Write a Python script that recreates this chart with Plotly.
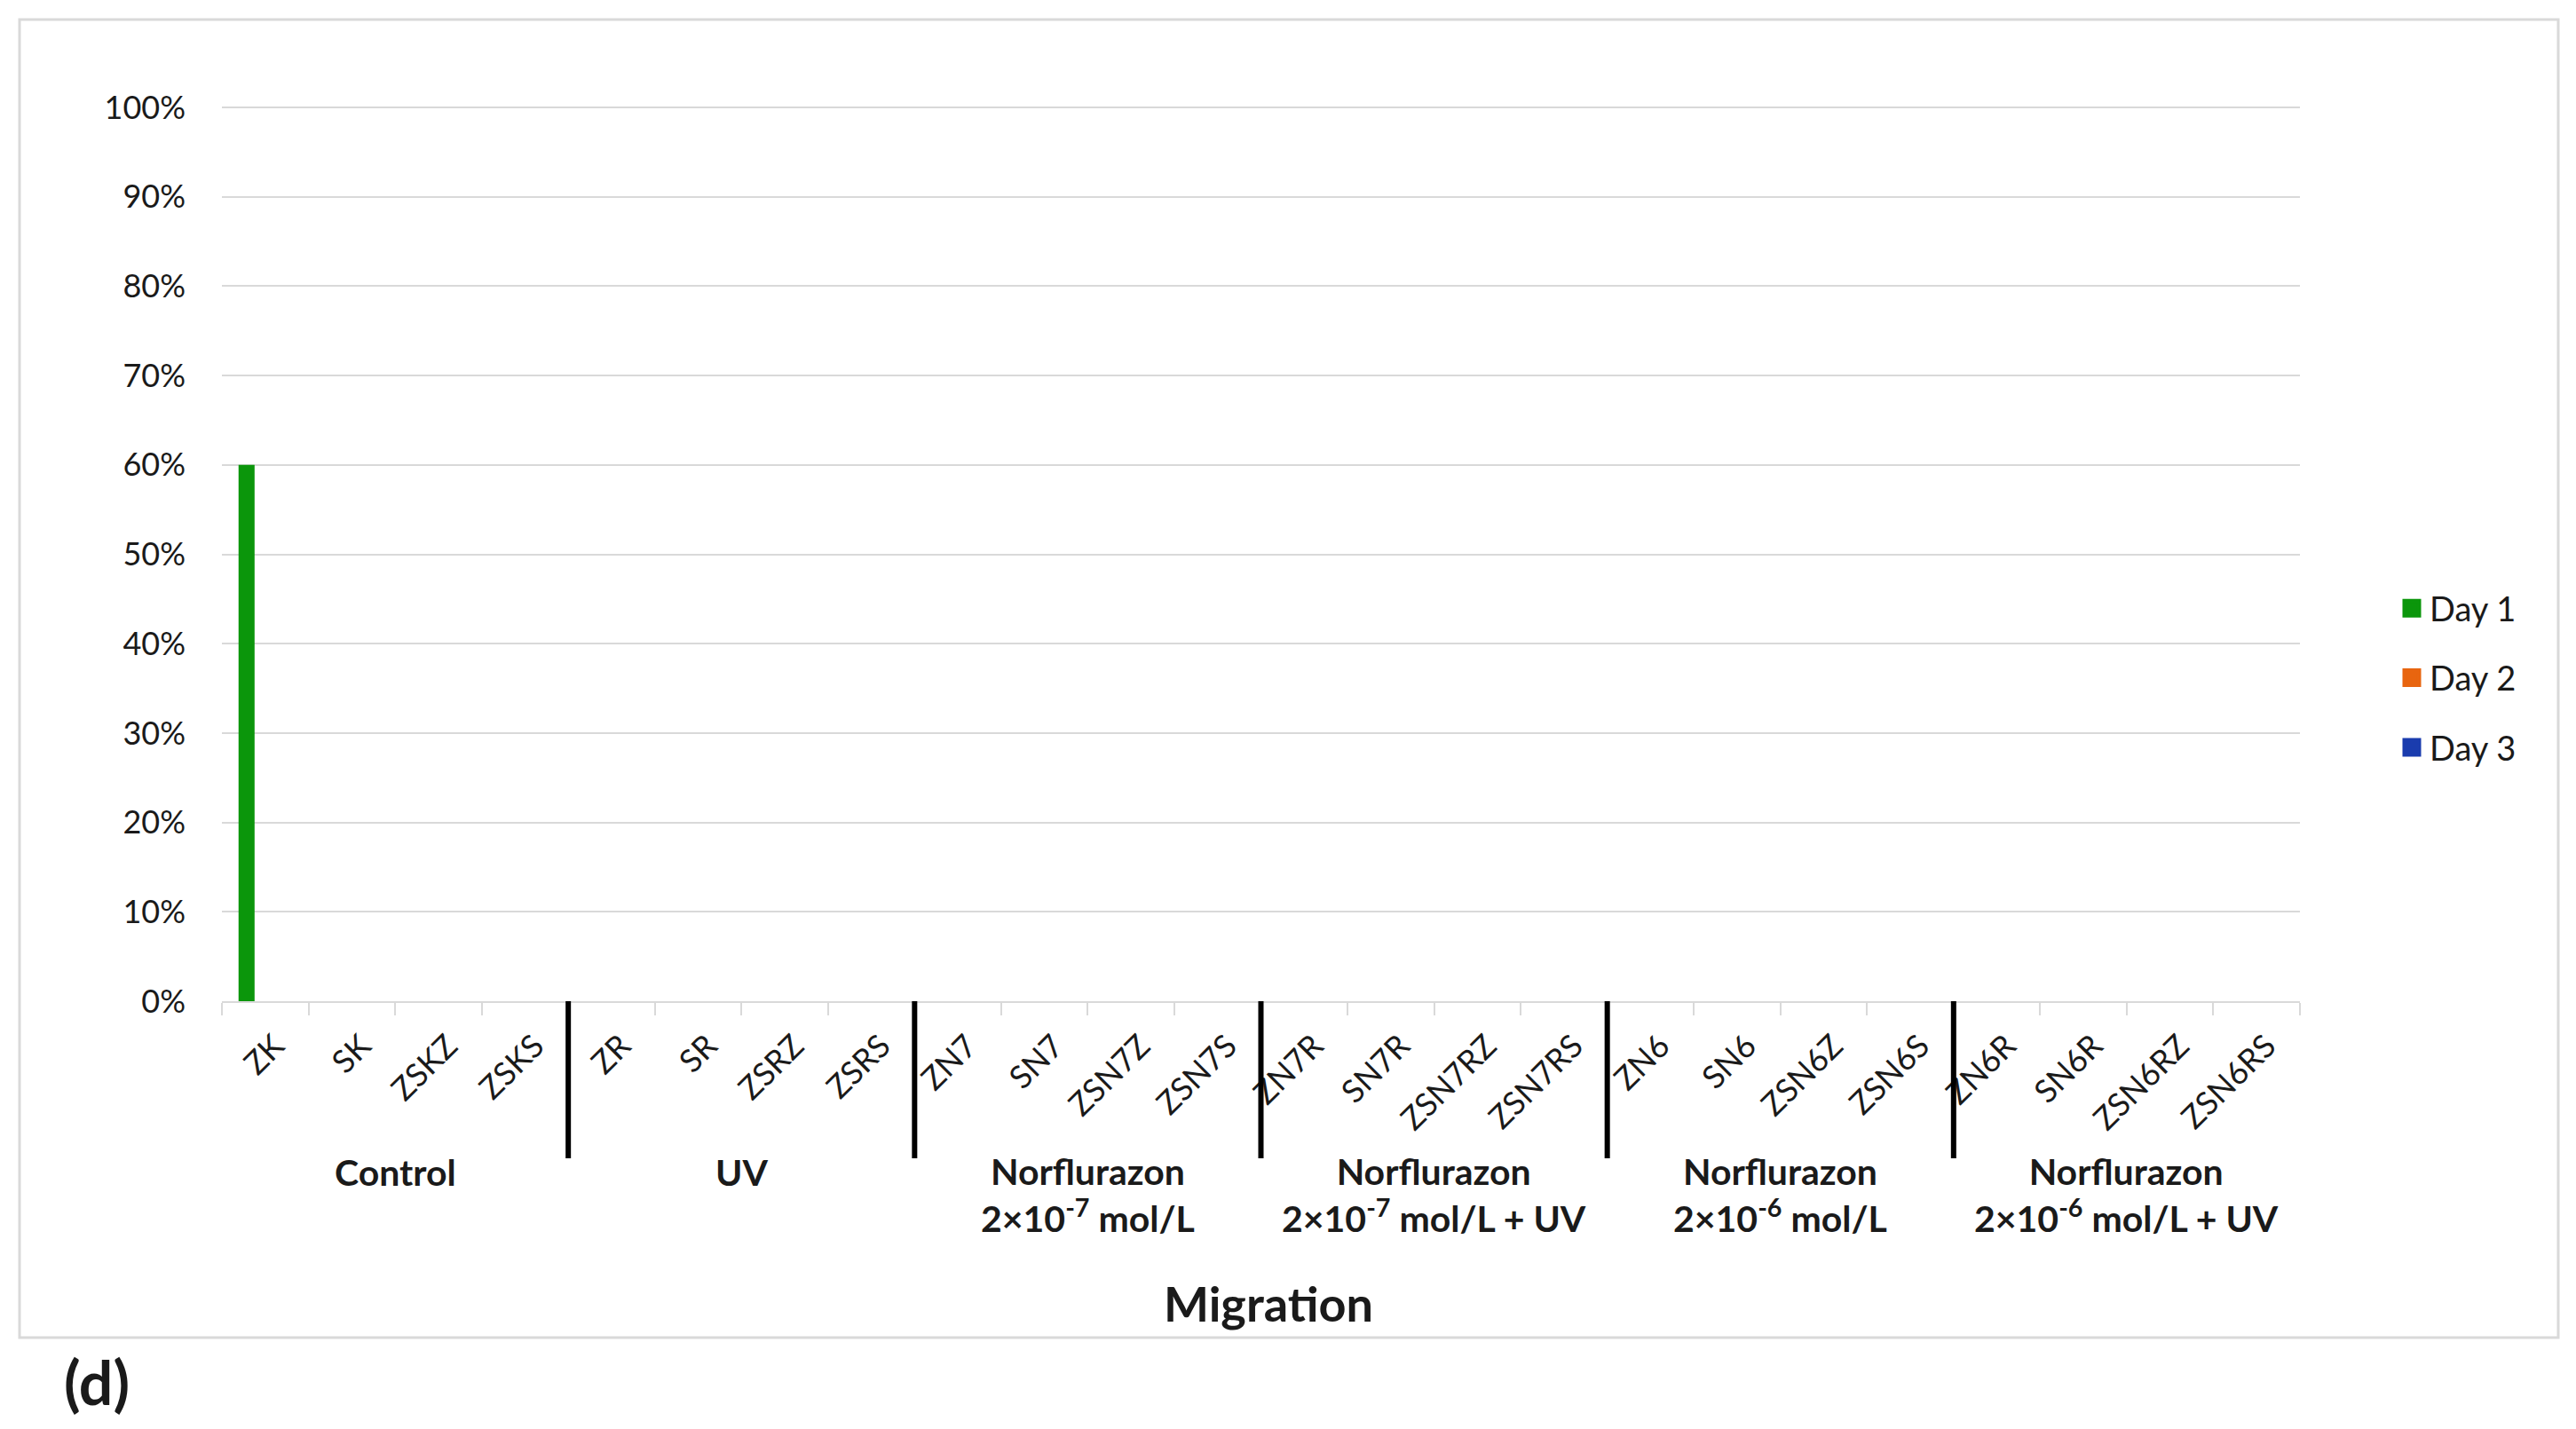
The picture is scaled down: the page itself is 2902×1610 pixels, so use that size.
import plotly.graph_objects as go

# ---------------- data ----------------
categories = ["ZK", "SK", "ZSKZ", "ZSKS",
              "ZR", "SR", "ZSRZ", "ZSRS",
              "ZN7", "SN7", "ZSN7Z", "ZSN7S",
              "ZN7R", "SN7R", "ZSN7RZ", "ZSN7RS",
              "ZN6", "SN6", "ZSN6Z", "ZSN6S",
              "ZN6R", "SN6R", "ZSN6RZ", "ZSN6RS"]

day1 = [0.60, 0, 0, 0, 0, 0, 0, 0, 0, 0, 0, 0,
        0, 0, 0, 0, 0, 0, 0, 0, 0, 0, 0, 0]
day2 = [0, 0, 0, 0, 0, 0, 0, 0, 0, 0, 0, 0,
        0, 0, 0, 0, 0, 0, 0, 0, 0, 0, 0, 0]
day3 = [0, 0, 0, 0, 0, 0, 0, 0, 0, 0, 0, 0,
        0, 0, 0, 0, 0, 0, 0, 0, 0, 0, 0, 0]

series_names = ["Day 1", "Day 2", "Day 3"]
series_colors = ["#0b960b", "#e8650f", "#1a3cae"]

group_labels = ["Control",
                "UV",
                "Norflurazon<br>2×10<sup>-7</sup> mol/L",
                "Norflurazon<br>2×10<sup>-7</sup> mol/L + UV",
                "Norflurazon<br>2×10<sup>-6</sup> mol/L",
                "Norflurazon<br>2×10<sup>-6</sup> mol/L + UV"]
group_sizes = [4, 4, 4, 4, 4, 4]

y_ticks = [0, 0.1, 0.2, 0.3, 0.4, 0.5, 0.6, 0.7, 0.8, 0.9, 1.0]

x_title = "Migration"
panel_label = "(d)"

# ---------------- layout geometry (pixels) ----------------
W, H = 2902, 1610
L, R, T, B = 250, 2591, 120, 1128
PW, PH = R - L, B - T


def px_x(p):
    return (p - L) / PW


def px_y(p):
    return (B - p) / PH


FONT = "Lato, 'Open Sans', sans-serif"
TXT = "#1a1a1a"

fig = go.Figure()
for name, vals, col in zip(series_names, [day1, day2, day3], series_colors):
    fig.add_trace(go.Bar(
        x=categories, y=vals, name=name,
        marker=dict(color=col, line=dict(width=0)),
        legendgroup=name, showlegend=False,
    ))
# legend entries (larger square keys, like the reference)
for name, col in zip(series_names, series_colors):
    fig.add_trace(go.Scatter(
        x=[None], y=[None], mode="markers", name=name,
        marker=dict(symbol="square", size=16, color=col,
                    line=dict(color=col, width=5)),
        legendgroup=name, showlegend=True, hoverinfo="skip",
    ))

shapes = []
annotations = []

# group separators and group labels
start = 0
for i, (lab, n) in enumerate(zip(group_labels, group_sizes)):
    center = start + (n - 1) / 2
    two_lines = "<br>" in lab
    annotations.append(dict(
        x=center, xref="x", y=px_y(1346 if two_lines else 1320), yref="paper",
        text=lab, showarrow=False, xanchor="center", yanchor="middle",
        font=dict(family=FONT, size=41, color=TXT, weight="bold"),
    ))
    end = start + n
    if i < len(group_sizes) - 1:
        shapes.append(dict(
            type="line", xref="x", yref="paper",
            x0=end - 0.5, x1=end - 0.5, y0=0, y1=px_y(1305),
            line=dict(color="#000000", width=6),
        ))
    start = end

# outer border of the chart area
shapes.append(dict(
    type="rect", xref="paper", yref="paper",
    x0=px_x(22), x1=px_x(2882), y0=px_y(1507), y1=px_y(22),
    line=dict(color="#d9d9d9", width=3), fillcolor="rgba(0,0,0,0)", layer="below",
))

annotations.append(dict(
    x=px_x(1429), y=px_y(1468), xref="paper", yref="paper",
    text=x_title, showarrow=False, xanchor="center", yanchor="middle",
    font=dict(family=FONT, size=54, color=TXT, weight="bold"),
))
annotations.append(dict(
    x=px_x(109), y=px_y(1556), xref="paper", yref="paper",
    text=panel_label, showarrow=False, xanchor="center", yanchor="middle",
    font=dict(family=FONT, size=68, color=TXT, weight="bold"),
))

fig.update_layout(
    width=W, height=H,
    margin=dict(l=L, r=W - R, t=T, b=H - B, pad=0),
    paper_bgcolor="white", plot_bgcolor="white",
    barmode="group", bargap=0.354, bargroupgap=0.14,
    font=dict(family=FONT, color=TXT),
    shapes=shapes, annotations=annotations,
    legend=dict(
        x=px_x(2697), y=px_y(764), xanchor="left", yanchor="middle",
        font=dict(family=FONT, size=38, color=TXT),
        tracegroupgap=26, bgcolor="rgba(0,0,0,0)",
    ),
    showlegend=True,
)

fig.update_xaxes(
    type="category", range=[-0.5, len(categories) - 0.5],
    showgrid=False, zeroline=False,
    showline=True, linecolor="#d9d9d9", linewidth=2,
    ticks="outside", tickson="boundaries", ticklen=14,
    tickcolor="#d9d9d9", tickwidth=2,
    tickangle=-45, tickfont=dict(family=FONT, size=36, color=TXT),
    ticklabelstandoff=13, ticklabelshift=11,
)
fig.update_yaxes(
    range=[0, 1.001], tickvals=y_ticks, tickformat=".0%",
    showgrid=True, gridcolor="#d9d9d9", gridwidth=2,
    zeroline=False, showline=False, ticks="",
    ticklabelstandoff=40,
    tickfont=dict(family=FONT, size=36, color=TXT),
)

fig.write_html("out.html", config={"displayModeBar": False},
               post_script="document.body.style.margin='0';")
